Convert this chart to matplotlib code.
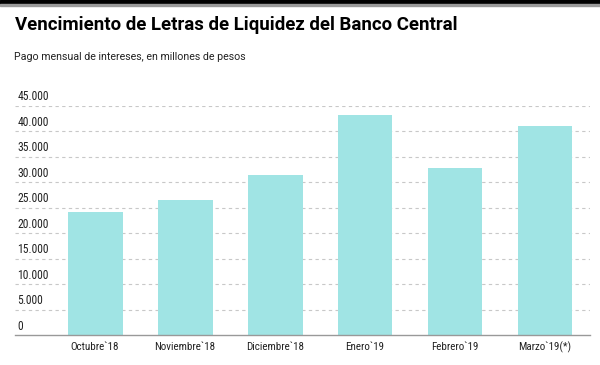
import matplotlib
matplotlib.use("Agg")
import matplotlib.pyplot as plt
from matplotlib import font_manager as fm
import matplotlib.transforms as mtransforms

categories = ["Octubre`18", "Noviembre`18", "Diciembre`18", "Enero`19", "Febrero`19", "Marzo`19(*)"]
values = [24200, 26400, 31400, 43200, 32700, 41100]
yticks = [0, 5000, 10000, 15000, 20000, 25000, 30000, 35000, 40000, 45000]
ytick_labels = ["0", "5.000", "10.000", "15.000", "20.000", "25.000", "30.000", "35.000", "40.000", "45.000"]

names = {f.name for f in fm.fontManager.ttflist}
def pick(*cands):
    for c in cands:
        if c in names:
            return c
    return "DejaVu Sans"
narrow = pick("Roboto Condensed", "Archivo Narrow", "Liberation Sans Narrow")
head = pick("Roboto", "Liberation Sans")

W, H = 600, 365
fig = plt.figure(figsize=(6, 3.65), dpi=100)
fig.patch.set_facecolor("white")
renderer = fig.canvas.get_renderer()

def fit(t, target_px):
    w = t.get_window_extent(renderer=renderer).width
    t.set_fontsize(t.get_fontsize() * target_px / w)

fig.patches.append(plt.Rectangle((0, 1 - 4 / H), 1, 4 / H, transform=fig.transFigure,
                                 color="black", zorder=5))
fig.patches.append(plt.Rectangle((0, 1 - 5.5 / H), 1, 1.5 / H, transform=fig.transFigure,
                                 color="#9a9a9a", zorder=5))

t1 = fig.text(15 / W, 1 - 25.5 / H, "Vencimiento de Letras de Liquidez del Banco Central",
              fontsize=13.5, fontweight="bold", family=head, va="center", ha="left")
fit(t1, 440)
t2 = fig.text(14 / W, 1 - 57 / H, "Pago mensual de intereses, en millones de pesos",
              fontsize=9, fontweight="normal", family=head, va="center", ha="left", color="#222222")
fit(t2, 235)

left, right = 15, 590
top, bottom = 105.7, 335
ax = fig.add_axes([left / W, 1 - bottom / H, (right - left) / W, (bottom - top) / H])
x = list(range(len(categories)))
ax.bar(x, values, width=0.61, color="#a0e4e4", zorder=2)
ax.set_xlim(-0.89, 5.5)
ax.set_ylim(0, 45000)

for s in ["top", "right", "left"]:
    ax.spines[s].set_visible(False)
ax.spines["bottom"].set_color("#999999")
ax.spines["bottom"].set_linewidth(1.0)

ax.set_yticks(yticks)
ax.set_yticklabels([])
ax.tick_params(axis="y", length=0)
for v in yticks[1:]:
    ax.axhline(v, color="#c8c8c8", linestyle=(0, (3, 3)), linewidth=0.8, zorder=1)

trans = mtransforms.blended_transform_factory(ax.transAxes, ax.transData)
ylabs = []
for v, lab in zip(yticks, ytick_labels):
    ylabs.append(ax.text(0.004, v + 450, lab, transform=trans, ha="left", va="bottom",
                         fontsize=9, family=narrow, color="#222222"))
w = ylabs[-1].get_window_extent(renderer=renderer).width
fs = 9 * 32 / w
for t in ylabs:
    t.set_fontsize(fs)

ax.set_xticks(x)
ax.set_xticklabels(categories, fontsize=9, family=narrow, color="#222222")
ax.tick_params(axis="x", length=0, pad=5)
w = ax.get_xticklabels()[0].get_window_extent(renderer=renderer).width
fsx = 9 * 48.6 / w
ax.set_xticklabels(categories, fontsize=fsx, family=narrow, color="#222222")

fig.savefig("out.png", dpi=100, facecolor="white")
